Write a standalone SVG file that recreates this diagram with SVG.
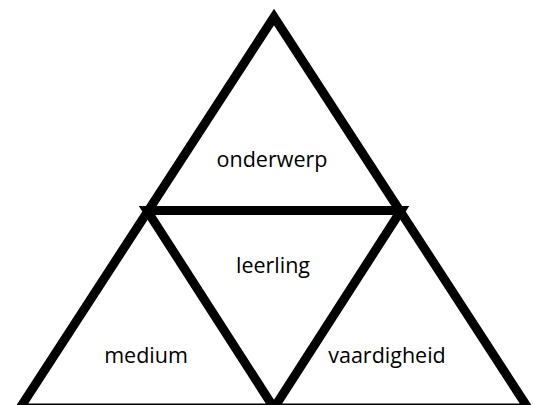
<svg xmlns="http://www.w3.org/2000/svg" width="533" height="405" viewBox="0 0 533 405">
<style>
.tri{fill:none;stroke:#000;stroke-width:9;stroke-linejoin:miter;stroke-miterlimit:10}
.lbl{font-family:"Open Sans","Liberation Sans",sans-serif;font-size:21.5px;fill:#000;text-anchor:middle}
</style>
<rect width="533" height="405" fill="#fff"/>
<g id="connectors">
<polygon class="tri" points="274,17 528,408 20,408"/>
<polygon class="tri" points="147,210.5 401,210.5 274,408"/>
</g>
<g id="onderwerp"><text class="lbl" x="272" y="167">onderwerp</text></g>
<g id="leerling"><text class="lbl" x="273" y="273">leerling</text></g>
<g id="medium"><text class="lbl" x="146" y="363">medium</text></g>
<g id="vaardigheid"><text class="lbl" x="387" y="363">vaardigheid</text></g>
</svg>
